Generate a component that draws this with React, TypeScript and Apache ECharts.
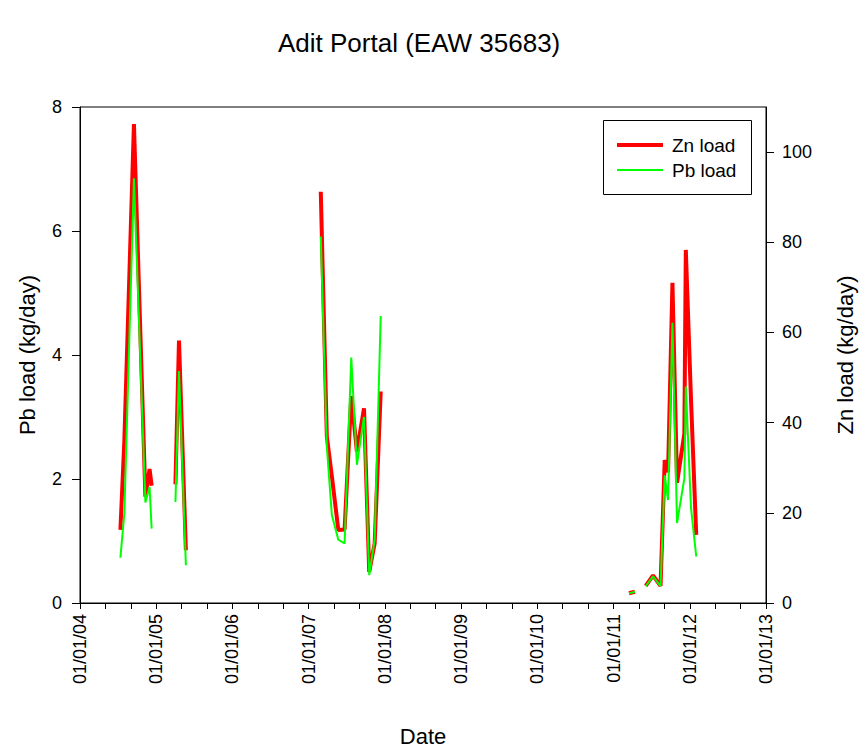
import React, { useEffect, useRef } from 'react';
import * as echarts from 'echarts';

// Sampling dates (yyyy-mm-dd) and sampling campaign (line breaks between campaigns)
const sampleDates = [
  '2004-07-13', '2004-08-01', '2004-09-16', '2004-11-10', '2004-11-30', '2004-12-10',
  '2005-04-03', '2005-04-20', '2005-05-23',
  '2007-02-28', '2007-03-29', '2007-04-22', '2007-05-23', '2007-06-22', '2007-07-24',
  '2007-08-20', '2007-09-23', '2007-10-18', '2007-11-13', '2007-12-12',
  '2011-03-16', '2011-04-13',
  '2011-06-04', '2011-07-09', '2011-08-14', '2011-09-03', '2011-09-19', '2011-10-10',
  '2011-11-01', '2011-12-06', '2011-12-13', '2012-01-07', '2012-02-01',
];
const campaign = [
  1, 1, 1, 1, 1, 1,
  2, 2, 2,
  3, 3, 3, 3, 3, 3, 3, 3, 3, 3, 3,
  4, 4,
  5, 5, 5, 5, 5, 5, 5, 5, 5, 5, 5,
];
// Zn load (kg/day) - right axis
const znLoad = [
  16.2, 36.0, 106.2, 23.6, 29.7, 26.0,
  26.3, 58.2, 11.7,
  91.2, 36.9, 28.1, 16.2, 16.3, 45.9, 33.6, 43.2, 6.9, 13.2, 46.9,
  2.15, 2.5,
  3.8, 6.1, 3.8, 31.7, 29.0, 71.0, 26.7, 37.5, 78.3, 45.0, 15.1,
];
// Pb load (kg/day) - left axis
const pbLoad = [
  0.73, 1.45, 6.85, 1.62, 1.87, 1.2,
  1.63, 3.74, 0.61,
  5.91, 2.52, 1.42, 1.02, 0.96, 3.96, 2.23, 3.0, 0.45, 1.02, 4.63,
  0.155, 0.18,
  0.27, 0.43, 0.27, 2.06, 1.66, 4.52, 1.29, 2.01, 3.49, 1.53, 0.75,
];
const yearTicks = [2004, 2005, 2006, 2007, 2008, 2009, 2010, 2011, 2012, 2013];
const pbTicks = [0, 2, 4, 6, 8];
const znTicks = [0, 20, 40, 60, 80, 100];

const FONT = "'Liberation Sans', Arial, Helvetica, sans-serif";

function toYear(s: string): number {
  const [y, m, d] = s.split('-').map(Number);
  const t = Date.UTC(y, m - 1, d);
  const a = Date.UTC(y, 0, 1);
  const b = Date.UTC(y + 1, 0, 1);
  return y + (t - a) / (b - a);
}

function build(values: number[]): any[] {
  const out: any[] = [];
  sampleDates.forEach((d, i) => {
    if (i > 0 && campaign[i] !== campaign[i - 1]) {
      out.push([(toYear(sampleDates[i - 1]) + toYear(d)) / 2, null]);
    }
    out.push([toYear(d), values[i]]);
  });
  return out;
}

export default function App() {
  const ref = useRef<HTMLDivElement>(null);
  useEffect(() => {
    document.body.style.margin = '0';
    if (!ref.current) return;
    const chart = echarts.init(ref.current, undefined, { renderer: 'svg' });
    const black = '#000';
    chart.setOption({
      animation: false,
      backgroundColor: '#fff',
      textStyle: { fontFamily: FONT },
      title: {
        text: 'Adit Portal (EAW 35683)',
        left: 273,
        top: 25,
        textStyle: { fontSize: 26, fontWeight: 'normal', color: black, fontFamily: FONT },
      },
      grid: {
        left: 80, right: 95, top: 107, bottom: 149,
        show: true, borderColor: black, borderWidth: 1, containLabel: false,
        outerBoundsMode: 'none',
      },
      xAxis: {
        type: 'value',
        min: yearTicks[0],
        max: yearTicks[yearTicks.length - 1],
        interval: 1,
        name: 'Date',
        nameLocation: 'middle',
        nameGap: 122,
        nameTextStyle: { fontSize: 22, color: black, fontFamily: FONT },
        axisLine: { onZero: false, lineStyle: { color: black, width: 1 } },
        axisTick: { length: 6, lineStyle: { color: black } },
        minorTick: { show: true, splitNumber: 3, length: 6, lineStyle: { color: black } },
        splitLine: { show: false },
        minorSplitLine: { show: false },
        axisLabel: {
          rotate: 90,
          margin: 11,
          fontSize: 18,
          color: black,
          fontFamily: FONT,
          formatter: (v: number) => '01/01/' + String(Math.round(v)).slice(2),
        },
      },
      yAxis: [
        {
          type: 'value',
          position: 'left',
          min: 0,
          max: 8,
          interval: 2,
          name: 'Pb load (kg/day)',
          nameLocation: 'middle',
          nameGap: 42,
          nameTextStyle: { fontSize: 22, color: black, fontFamily: FONT },
          axisLine: { show: true, lineStyle: { color: black } },
          axisTick: { show: true, length: 8, lineStyle: { color: black }, customValues: pbTicks },
          axisLabel: { margin: 18, fontSize: 18, color: black, fontFamily: FONT, customValues: pbTicks },
          splitLine: { show: false },
        },
        {
          type: 'value',
          position: 'right',
          min: 0,
          max: 110,
          interval: 20,
          name: 'Zn load (kg/day)',
          nameLocation: 'middle',
          nameGap: 68,
          nameTextStyle: { fontSize: 22, color: black, fontFamily: FONT },
          axisLine: { show: true, lineStyle: { color: black } },
          axisTick: { show: true, length: 8, lineStyle: { color: black }, customValues: znTicks },
          axisLabel: { margin: 16, fontSize: 18, color: black, fontFamily: FONT, customValues: znTicks },
          splitLine: { show: false },
        },
      ],
      series: [
        {
          name: 'Zn load',
          type: 'line',
          yAxisIndex: 1,
          data: build(znLoad),
          symbol: 'none',
          connectNulls: false,
          lineStyle: { color: '#ff0000', width: 4 },
          itemStyle: { color: '#ff0000' },
          z: 2,
        },
        {
          name: 'Pb load',
          type: 'line',
          yAxisIndex: 0,
          data: build(pbLoad),
          symbol: 'none',
          connectNulls: false,
          lineStyle: { color: '#00ff00', width: 2 },
          itemStyle: { color: '#00ff00' },
          z: 3,
        },
      ],
      graphic: [
        {
          type: 'rect',
          shape: { x: 603.5, y: 120.5, width: 148, height: 74 },
          style: { fill: '#fff', stroke: black, lineWidth: 1 },
          z: 100,
        },
        {
          type: 'line',
          shape: { x1: 617, y1: 145, x2: 663, y2: 145 },
          style: { stroke: '#ff0000', lineWidth: 4 },
          z: 101,
        },
        {
          type: 'line',
          shape: { x1: 617, y1: 170, x2: 663, y2: 170 },
          style: { stroke: '#00ff00', lineWidth: 2 },
          z: 101,
        },
        {
          type: 'text',
          x: 672,
          y: 145,
          style: { text: 'Zn load', fontSize: 19, fontFamily: FONT, fill: black, verticalAlign: 'middle', textVerticalAlign: 'middle' },
          z: 101,
        },
        {
          type: 'text',
          x: 672,
          y: 170,
          style: { text: 'Pb load', fontSize: 19, fontFamily: FONT, fill: black, verticalAlign: 'middle', textVerticalAlign: 'middle' },
          z: 101,
        },
      ],
    });
    return () => chart.dispose();
  }, []);
  return (
    <div
      ref={ref}
      style={{ position: 'absolute', left: 0, top: 0, width: 861, height: 752, background: '#fff' }}
    />
  );
}
